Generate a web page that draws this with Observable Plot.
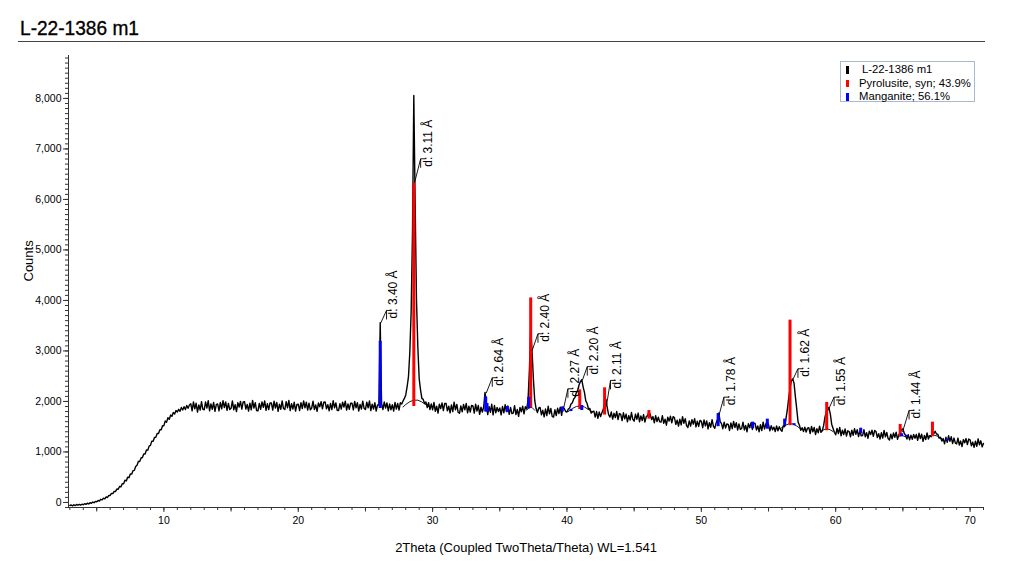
<!DOCTYPE html>
<html><head><meta charset="utf-8">
<script src="https://cdn.jsdelivr.net/npm/d3@7"></script>
<script src="https://cdn.jsdelivr.net/npm/@observablehq/plot@0.6"></script>
<style>
body{margin:0;background:#fff;font-family:"Liberation Sans",Arial,Helvetica,sans-serif;}
#wrap{position:relative;width:1024px;height:586px;overflow:hidden;}
#title{position:absolute;left:20px;top:17px;font-size:21px;line-height:21px;color:#000;white-space:nowrap;transform:scaleX(0.91);transform-origin:0 0;-webkit-text-stroke:0.35px #000;}
#rule{position:absolute;left:18px;top:41px;width:967px;height:0;border-top:1.5px solid #444;}
#chart{position:absolute;left:0;top:45px;}
#legend{position:absolute;left:840px;top:61px;width:133px;height:39px;border:1px solid #a9b9cf;background:#fff;font-size:11.3px;color:#000;}
#legend .row{position:absolute;left:0;height:13px;line-height:13px;white-space:nowrap;}
#legend .sw{position:absolute;left:5px;top:3px;width:2.5px;height:7.5px;}
#legend .lt{position:absolute;top:0;}
</style></head>
<body>
<div id="wrap">
  <div id="title"></div>
  <div id="rule"></div>
  <div id="chart"></div>
  <div id="legend"></div>
</div>
<script>
// ---------- data ----------
const chartTitle = "L-22-1386 m1";
const xLabel = "2Theta (Coupled TwoTheta/Theta) WL=1.541";
const yLabel = "Counts";

// legend
const seriesNames = ["L-22-1386 m1", "Pyrolusite, syn; 43.9%", "Manganite; 56.1%"];
const seriesColors = ["#000000", "#ff0000", "#0000ff"];

// measured scan (2theta start / step, counts per step)
const scanStart = 3.0, scanStep = 0.1;
const counts = [
-60,-50,-68,-45,-62,-40,-55,-38,-52,-35,
-45,-25,-38,-15,-30,-5,-18,8,-5,20,
12,40,28,62,50,85,72,110,98,140,
138,180,175,220,218,265,262,315,308,370,
368,440,425,500,490,565,560,630,635,710,
735,810,812,880,890,960,960,1040,1035,1115,
1130,1215,1210,1285,1290,1365,1365,1440,1440,1520,
1520,1615,1590,1680,1645,1730,1705,1780,1750,1820,
1790,1845,1805,1880,1830,1895,1840,1920,1865,1930,
1955,1815,1990,1855,1965,1790,1930,1830,1995,1845,
1835,1990,1870,2015,1815,1950,1845,1980,1805,1935,
1950,1815,1980,1855,2015,1880,1990,1825,1960,1840,
1865,2010,1835,1935,1800,1975,1890,2000,1850,1990,
1995,1850,1940,1810,1965,1835,2020,1870,1975,1820,
1815,1960,1845,1990,1885,2010,1825,1955,1840,1970,
1970,1830,2005,1870,1980,1805,1945,1845,2010,1860,
1840,1995,1875,2020,1820,1955,1850,1985,1810,1940,
1945,1820,1975,1860,2010,1875,1985,1830,1965,1835,
1870,2005,1840,1930,1805,1970,1895,1995,1855,1985,
1990,1855,1935,1815,1960,1840,2015,1875,1970,1825,
1820,1955,1850,1985,1890,2005,1830,1950,1845,1965,
1965,1835,2000,1875,1975,1810,1940,1850,2005,1865,
1840,1985,1875,2010,1820,1945,1850,1975,1810,1930,
1930,3560,1960,1840,1990,1870,1970,1815,1950,1835,
1935,1810,1980,1850,1960,1830,1975,1950,2010,2060,
2130,2290,2480,2960,3750,5300,8060,5900,4000,3080,
2450,2230,2060,2040,1960,1990,1880,1975,1840,1950,
1835,1980,1805,1905,1770,1945,1860,1970,1820,1960,
1960,1815,1905,1775,1930,1800,1985,1835,1940,1785,
1765,1910,1795,1940,1835,1960,1775,1905,1790,1920,
1910,1770,1945,1810,1920,1745,1885,1790,1890,2180,
1960,1740,1900,1785,1945,1735,1920,1775,1880,1800,
1870,1735,1900,1775,1935,1800,1910,1745,1880,1760,
1770,1915,1740,1840,1705,1880,1795,1905,1755,1895,
1850,2020,2600,3450,3000,2450,2020,1860,1780,1870,
1880,1735,1825,1695,1850,1720,1905,1755,1860,1705,
1690,1835,1720,1865,1760,1885,1725,1890,1860,1800,
1790,1850,1870,1950,1975,2050,2080,2180,2220,2330,
2390,2430,2290,2180,2010,1960,1850,1860,1770,1800,
1810,1690,1800,1665,1790,1700,1775,1840,1990,2040,
1870,1740,1690,1790,1650,1765,1680,1800,1640,1760,
1745,1620,1775,1655,1750,1595,1720,1630,1780,1645,
1610,1750,1645,1770,1595,1715,1620,1740,1590,1700,
1720,1795,1740,1640,1700,1575,1720,1600,1690,1595,
1590,1720,1565,1650,1530,1690,1610,1710,1575,1700,
1675,1545,1630,1510,1650,1535,1700,1565,1660,1520,
1485,1615,1510,1640,1550,1660,1495,1610,1505,1625,
1605,1480,1635,1515,1615,1455,1580,1490,1640,1505,
1470,1575,1640,1770,1600,1560,1460,1590,1475,1555,
1545,1425,1575,1460,1605,1485,1580,1435,1555,1450,
1460,1590,1435,1525,1400,1560,1480,1580,1445,1570,
1565,1435,1515,1400,1540,1425,1590,1455,1550,1600,
1540,1420,1520,1440,1490,1405,1515,1420,1500,1440,
1410,1520,1500,1660,1840,2060,2260,2410,2445,2360,
2090,1850,1590,1530,1430,1480,1405,1490,1395,1470,
1480,1365,1505,1400,1485,1345,1460,1380,1510,1390,
1420,1520,1690,1790,1880,1870,1750,1550,1470,1390,
1340,1465,1365,1485,1320,1430,1345,1455,1315,1420,
1405,1300,1430,1330,1460,1350,1440,1305,1415,1320,
1325,1440,1300,1380,1270,1410,1345,1430,1310,1425,
1405,1285,1360,1255,1380,1275,1425,1300,1385,1265,
1235,1350,1260,1375,1290,1390,1250,1340,1390,1440,
1460,1370,1330,1255,1340,1240,1330,1250,1345,1270,
1345,1230,1370,1265,1350,1210,1325,1245,1375,1255,
1320,1300,1370,1360,1410,1355,1350,1270,1290,1215,
1265,1160,1290,1190,1320,1210,1300,1165,1275,1180,
1160,1275,1135,1215,1105,1245,1180,1265,1145,1255,
1240,1120,1195,1090,1215,1110,1260,1140,1220,1100,
1170
];

// fitted background humps under the main reflections
const humpId     = [1,1,1,1,1,1,1,1, 2,2,2,2, 3,3,3,3,3,3,3, 4,4,4,4,4,4, 5,5,5,5, 6,6,6, 7,7,7,7,7];
const humpTheta  = [27.8,28.0,28.3,28.6,28.9,29.2,29.5,29.8, 37.0,37.2,37.4,37.6, 40.1,40.4,40.7,41.0,41.3,41.6,41.9, 55.9,56.2,56.5,56.8,57.1,57.4, 58.9,59.2,59.5,59.8, 64.6,64.9,65.2, 66.7,67.0,67.3,67.6,67.9];
const humpCounts = [1890,1940,1995,2025,2025,1990,1935,1880, 1830,1880,1880,1825, 1800,1860,1900,1915,1890,1840,1790, 1465,1520,1555,1555,1515,1455, 1410,1450,1450,1405, 1300,1330,1300, 1290,1320,1335,1310,1260];

// Pyrolusite, syn (red sticks)
const pyroTheta = [28.6, 37.3, 40.95, 42.8, 46.1, 56.6, 59.33, 64.8, 67.2];
const pyroBase  = [1900, 1870, 1840, 1730, 1650, 1520, 1420, 1300, 1300];
const pyroTop   = [6320, 4050, 2230, 2270, 1820, 3610, 1980, 1545, 1590];

// Manganite (blue sticks)
const mangTheta = [26.1, 33.95, 34.05, 35.55, 37.15, 39.65, 40.3, 41.1, 51.25, 53.82, 54.91, 56.2, 56.9, 61.86, 64.9, 65.3, 68.3];
const mangBase  = [1860, 1790, 1790, 1780, 1850, 1790, 1800, 1820, 1500, 1460, 1450, 1520, 1520, 1360, 1300, 1290, 1220];
const mangTop   = [3190, 2090, 1960, 1900, 2080, 1890, 1840, 1920, 1760, 1590, 1650, 1650, 1560, 1470, 1360, 1330, 1255];

// d-spacing annotations
const dLabels  = ["d: 3.40 Å","d: 3.11 Å","d: 2.64 Å","d: 2.40 Å","d: 2.27 Å","d: 2.20 Å","d: 2.11 Å","d: 1.78 Å","d: 1.62 Å","d: 1.55 Å","d: 1.44 Å"];
const dPeakX   = [26.12, 28.66, 33.99, 37.41, 39.77, 41.14, 42.93, 51.31, 56.78, 59.43, 64.97];
const dPeakY   = [3544, 6336, 2165, 3010, 1887, 2416, 1900, 1723, 2416, 1822, 1392];
const dLabelX  = [26.57, 29.11, 34.44, 37.84, 40.07, 41.51, 43.24, 51.68, 57.19, 59.88, 65.46];
const dLabelY  = [3802, 6805, 2469, 3340, 2251, 2690, 2416, 2085, 2647, 2085, 1822];

// axes
const xDomain = [2.9, 71.0];
const yDomain = [-100, 8850];
const xMajor = [10, 20, 30, 40, 50, 60, 70];
const yMajor = [0, 1000, 2000, 3000, 4000, 5000, 6000, 7000, 8000];

// ---------- build ----------
const scan = counts.map((c, i) => ({x: +(scanStart + i * scanStep).toFixed(2), y: c}));
const humps = humpTheta.map((t, i) => ({x: t, y: humpCounts[i], id: humpId[i]}));
const pyro = pyroTheta.map((t, i) => ({x: t, y1: pyroBase[i], y2: pyroTop[i]}));
const mang = mangTheta.map((t, i) => ({x: t, y1: mangBase[i], y2: mangTop[i]}));
const ann = dLabels.map((s, i) => ({text: s, px: dPeakX[i], py: dPeakY[i], lx: dLabelX[i], ly: dLabelY[i]}));

const W = 1024, H = 541, mL = 68, mR = 41, mT = 10, mB = 79;
const xPerPx = (xDomain[1] - xDomain[0]) / (W - mL - mR);
const yPerPx = (yDomain[1] - yDomain[0]) / (H - mT - mB);
const xMinor = d3.range(3, 72, 1);
const xMid = d3.range(5, 71, 10);
const yMinor = d3.range(-100, 8801, 100);
const fmt = d3.format(",");

const chart = Plot.plot({
  width: W, height: H,
  marginLeft: mL, marginRight: mR, marginTop: mT, marginBottom: mB,
  style: {fontFamily: "'Liberation Sans', Arial, sans-serif", background: "transparent", overflow: "visible", color: "#000"},
  x: {domain: xDomain, axis: null},
  y: {domain: yDomain, axis: null},
  marks: [
    Plot.line(humps, {x: "x", y: "y", z: "id", stroke: "#000", strokeWidth: 0.9}),
    Plot.line(scan, {x: "x", y: "y", stroke: "#000", strokeWidth: 1.4}),
    Plot.ruleX(pyro, {x: "x", y1: "y1", y2: "y2", stroke: "#ff0000", strokeWidth: 3}),
    Plot.ruleX(mang, {x: "x", y1: "y1", y2: "y2", stroke: "#0000ff", strokeWidth: 3}),
    // leaders
    Plot.link(ann, {x1: "px", y1: "py", x2: "lx", y2: "ly", stroke: "#000", strokeWidth: 0.9}),
    Plot.link(ann, {x1: "lx", y1: "ly", x2: "lx", y2: d => d.ly - 9 * yPerPx, stroke: "#000", strokeWidth: 0.9}),
    Plot.link(ann, {x1: "lx", y1: "ly", x2: d => d.lx + 5 * xPerPx, y2: "ly", stroke: "#000", strokeWidth: 0.9}),
    Plot.text(ann, {x: "lx", y: "ly", text: "text", rotate: -90, textAnchor: "start", dx: 7, dy: 8, fontSize: 12, fill: "#000"}),
    // axes
    Plot.ruleY([yDomain[0]], {stroke: "#333", strokeWidth: 1}),
    Plot.ruleX([xDomain[0]], {stroke: "#333", strokeWidth: 1}),
    Plot.axisX({ticks: xMinor, tickSize: 3, tickFormat: () => "", label: null, stroke: "#333"}),
    Plot.axisX({ticks: xMid, tickSize: 4.5, tickFormat: () => "", label: null, stroke: "#333"}),
    Plot.axisX({ticks: xMajor, tickSize: 5, tickPadding: 4, tickFormat: d => String(d), label: null, fontSize: 10.5, stroke: "#333"}),
    Plot.axisY({ticks: yMinor, tickSize: 3, tickFormat: () => "", label: null, stroke: "#333"}),
    Plot.axisY({ticks: yMajor, tickSize: 5, tickPadding: 2, tickFormat: fmt, label: null, fontSize: 10.5, stroke: "#333"}),
    Plot.text([yLabel], {text: d => d, frameAnchor: "left", rotate: -90, dx: -40, fontSize: 13, fill: "#000"}),
    Plot.text([xLabel], {text: d => d, frameAnchor: "bottom", dy: 44, fontSize: 13, fill: "#000"})
  ]
});
document.getElementById("chart").appendChild(chart);
document.getElementById("title").textContent = chartTitle;

const leg = document.getElementById("legend");
seriesNames.forEach((name, i) => {
  const row = document.createElement("div");
  row.className = "row";
  row.style.top = (1 + i * 13.5) + "px";
  row.style.width = "131px";
  const sw = document.createElement("span");
  sw.className = "sw";
  sw.style.background = seriesColors[i];
  const t = document.createElement("span");
  t.className = "lt";
  t.style.left = (i === 0 ? 21 : 18) + "px";
  t.textContent = name;
  row.appendChild(sw); row.appendChild(t);
  leg.appendChild(row);
});
</script>
</body></html>
